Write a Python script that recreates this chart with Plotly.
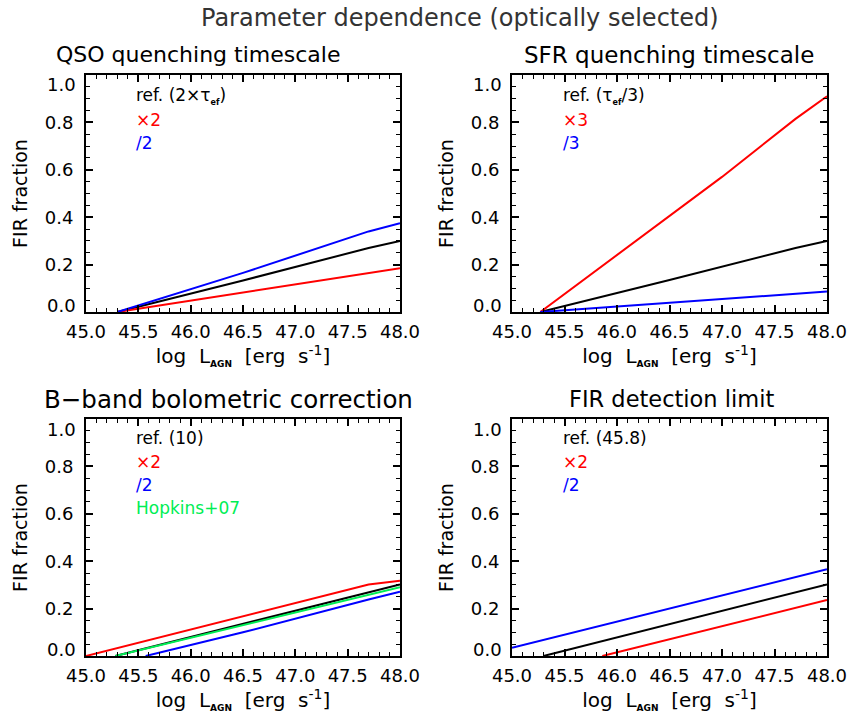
import plotly.graph_objects as go

# ---- data ----
# Panel 1: QSO quenching timescale
qso_ref_x = [45.3, 46.5, 47.7, 48.0]
qso_ref_y = [0.0, 0.133, 0.27, 0.30]
qso_x2_x = [45.3, 48.0]
qso_x2_y = [0.0, 0.185]
qso_d2_x = [45.3, 46.5, 47.7, 48.0]
qso_d2_y = [0.0, 0.165, 0.34, 0.375]

# Panel 2: SFR quenching timescale
sfr_ref_x = [45.27, 46.5, 47.7, 48.0]
sfr_ref_y = [0.0, 0.135, 0.27, 0.30]
sfr_x3_x = [45.27, 46.19, 47.0, 47.7, 48.0]
sfr_x3_y = [0.0, 0.304, 0.57, 0.815, 0.91]
sfr_d3_x = [45.27, 48.0]
sfr_d3_y = [0.0, 0.086]

# Panel 3: B-band bolometric correction
bb_ref_x = [45.28, 46.5, 47.7, 48.0]
bb_ref_y = [0.0, 0.135, 0.27, 0.302]
bb_x2_x = [45.0, 46.0, 47.0, 47.7, 48.0]
bb_x2_y = [0.0, 0.113, 0.226, 0.302, 0.318]
bb_d2_x = [45.57, 46.5, 47.7, 48.0]
bb_d2_y = [0.0, 0.10, 0.238, 0.271]
bb_hop_x = [45.28, 46.5, 47.7, 48.0]
bb_hop_y = [0.0, 0.13, 0.26, 0.29]

# Panel 4: FIR detection limit
fir_ref_x = [45.3, 46.5, 47.7, 48.0]
fir_ref_y = [0.0, 0.135, 0.27, 0.302]
fir_x2_x = [45.86, 47.0, 48.0]
fir_x2_y = [0.0, 0.125, 0.236]
fir_d2_x = [45.0, 46.5, 48.0]
fir_d2_y = [0.035, 0.20, 0.366]

x_ticks = [45.0, 45.5, 46.0, 46.5, 47.0, 47.5, 48.0]
y_ticks = [0.0, 0.2, 0.4, 0.6, 0.8, 1.0]
y_ticktext = ["", "0.2", "0.4", "0.6", "0.8", ""]   # end labels drawn inset, IDL style

panel_titles = ["QSO quenching timescale", "SFR quenching timescale",
                "B\u2212band bolometric correction", "FIR detection limit"]
main_title = "Parameter dependence (optically selected)"

RED, BLUE, BLACK, GREEN = "#ff0000", "#0000ff", "#000000", "#00ee55"
FONT = "DejaVu Sans"
NB = "\u00a0"

fig = go.Figure()

panels = [
    [(qso_ref_x, qso_ref_y, BLACK), (qso_x2_x, qso_x2_y, RED), (qso_d2_x, qso_d2_y, BLUE)],
    [(sfr_ref_x, sfr_ref_y, BLACK), (sfr_x3_x, sfr_x3_y, RED), (sfr_d3_x, sfr_d3_y, BLUE)],
    [(bb_x2_x, bb_x2_y, RED), (bb_d2_x, bb_d2_y, BLUE), (bb_ref_x, bb_ref_y, BLACK), (bb_hop_x, bb_hop_y, GREEN)],
    [(fir_ref_x, fir_ref_y, BLACK), (fir_x2_x, fir_x2_y, RED), (fir_d2_x, fir_d2_y, BLUE)],
]

W, H = 849, 714
xdom = [[86 / W, 400 / W], [512 / W, 827 / W]]
ydom = [[1 - 312 / H, 1 - 75 / H], [1 - 656 / H, 1 - 419 / H]]
title_cx = [198, 669, 229, 671]   # panel-title centres (px)
title_sz = [22, 23, 24.5, 22.5]

layout = dict(
    width=W, height=H, margin=dict(l=0, r=0, t=0, b=0, autoexpand=False),
    paper_bgcolor="white", plot_bgcolor="white", showlegend=False,
    font=dict(family=FONT, color="black", size=18),
)

xtitle = ("log" + NB + NB + "L<sub><b><span style='font-size:9px'>AGN</span></b></sub>" + NB + NB +
          "[erg" + NB + NB + "s<sup>-1</sup>]")

annotations = []
for i, series in enumerate(panels):
    r, c = divmod(i, 2)
    n = "" if i == 0 else str(i + 1)
    for xs, ys, col in series:
        fig.add_trace(go.Scatter(x=xs, y=ys, mode="lines", line=dict(color=col, width=2),
                                 xaxis="x" + n, yaxis="y" + n))
    axcommon = dict(showline=True, linewidth=2, linecolor="black", mirror="allticks",
                    ticks="inside", ticklen=7, tickwidth=1.5, tickcolor="black", automargin=False,
                    showgrid=False, zeroline=False, tickfont=dict(size=18, family=FONT))
    layout["xaxis" + n] = dict(axcommon, domain=xdom[c], range=[45.0, 48.0], anchor="y" + n,
                               tickvals=x_ticks, tickformat=".1f", ticklabelstandoff=2,
                               minor=dict(ticks="inside", ticklen=4, tickwidth=1, tickcolor="black",
                                          dtick=0.1, tick0=45.0, showgrid=False),
                               title=dict(text=xtitle, font=dict(size=20, family=FONT), standoff=6))
    layout["yaxis" + n] = dict(axcommon, domain=ydom[r], range=[0.0, 1.0], anchor="x" + n,
                               tickvals=y_ticks, ticktext=y_ticktext, ticklabelstandoff=7,
                               minor=dict(ticks="inside", ticklen=4, tickwidth=1, tickcolor="black",
                                          dtick=0.05, tick0=0.0, showgrid=False),
                               title=dict(text="FIR fraction", font=dict(size=19, family=FONT), standoff=12))
    # inset end labels of the y axis
    for val, shift in ((y_ticks[-1], -10), (y_ticks[0], 7)):
        annotations.append(dict(text="%.1f" % val, x=0, y=val, xref="x%s domain" % n, yref="y" + n,
                                xanchor="right", yanchor="middle", xshift=-8, yshift=shift,
                                showarrow=False, font=dict(size=18, family=FONT, color="black")))
    annotations.append(dict(text=panel_titles[i], x=title_cx[i] / W, y=ydom[r][1], xref="paper", yref="paper",
                            xanchor="center", yanchor="middle", yshift=20, showarrow=False,
                            font=dict(size=title_sz[i], family=FONT, color="black")))

# legend-like labels
def lbl(text, xpx, ypx, col):
    annotations.append(dict(text=text, x=xpx / W, y=1 - ypx / H, xref="paper", yref="paper",
                            xanchor="left", yanchor="middle", showarrow=False,
                            font=dict(size=17, family=FONT, color=col)))

SUBEF = "<sub><b><span style='font-size:8px'>ef</span></b></sub>"
lbl("ref." + NB + "(2\u00d7\u03c4" + SUBEF + ")", 134, 96, BLACK)
lbl("\u00d72", 134, 120, RED)
lbl("/2", 134, 143, BLUE)

lbl("ref." + NB + "(\u03c4" + SUBEF + "/3)", 561, 96, BLACK)
lbl("\u00d73", 561, 120, RED)
lbl("/3", 561, 143, BLUE)

lbl("ref. (10)", 134, 438, BLACK)
lbl("\u00d72", 134, 462, RED)
lbl("/2", 134, 485, BLUE)
lbl("Hopkins+07", 134, 508, GREEN)

lbl("ref. (45.8)", 561, 438, BLACK)
lbl("\u00d72", 561, 462, RED)
lbl("/2", 561, 485, BLUE)

annotations.append(dict(text=main_title, x=460 / W, y=1 - 18 / H, xref="paper", yref="paper",
                        xanchor="center", yanchor="middle", showarrow=False,
                        font=dict(size=24, family=FONT, color="#333333")))

layout["annotations"] = annotations
fig.update_layout(**layout)
fig.write_html("out.html", post_script="document.body.style.margin='0px';")
